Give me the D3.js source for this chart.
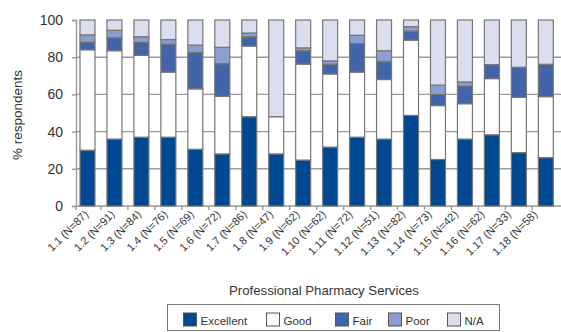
<!DOCTYPE html>
<html>
<head>
<meta charset="utf-8">
<script src="https://cdn.jsdelivr.net/npm/d3@7/dist/d3.min.js"></script>
<style>
  html, body { margin: 0; padding: 0; background: #fff; }
  svg { display: block; }
  text { font-family: "Liberation Sans", Arial, sans-serif; fill: #333; }
</style>
</head>
<body>
<svg id="chart" width="561" height="332"></svg>
<script>
// Survey ratings of professional pharmacy services (% of respondents)
const categories = [
  "1.1 (N=87)", "1.2 (N=91)", "1.3 (N=84)", "1.4 (N=76)", "1.5 (N=69)", "1.6 (N=72)",
  "1.7 (N=86)", "1.8 (N=47)", "1.9 (N=62)", "1.10 (N=62)", "1.11 (N=72)", "1.12 (N=51)",
  "1.13 (N=82)", "1.14 (N=73)", "1.15 (N=42)", "1.16 (N=62)", "1.17 (N=33)", "1.18 (N=58)"
];
const excellent = [30, 36, 37, 37, 30.5, 28, 48, 28, 24.7, 31.7, 37, 36, 48.7, 25, 36, 38.3, 28.7, 26];
const good      = [54, 47.5, 44, 35, 32.5, 31, 38, 20, 51.6, 39.3, 35, 32, 40.5, 29, 19, 30.2, 29.7, 32.8];
const fair      = [4, 7, 7, 15, 19.5, 17.5, 5, 0, 7.2, 5.2, 15.4, 9.6, 4.8, 6, 9.5, 7.5, 16.2, 17.4];
const poor      = [4, 4, 3, 2.5, 4, 8.8, 2, 0, 1.5, 1.8, 4.4, 5.9, 2.4, 5, 2.2, 0, 0, 0];
const na        = [8, 5.5, 9, 10.5, 13.5, 14.7, 7, 52, 15, 22, 8.2, 16.5, 3.6, 35, 33.3, 24, 25.4, 23.8];

const seriesNames = ["Excellent", "Good", "Fair", "Poor", "N/A"];
const seriesColors = ["#004891", "#ffffff", "#4265a9", "#8c9dcf", "#dadeee"];
const yTicks = [0, 20, 40, 60, 80, 100];
const xTitle = "Professional Pharmacy Services";
const yTitle = "% respondents";

const svg = d3.select("#chart");

// rows for the stack layout
const seriesValues = [excellent, good, fair, poor, na];
const rows = categories.map((c, i) => {
  const r = { category: c };
  seriesNames.forEach((s, k) => { r[s] = seriesValues[k][i]; });
  return r;
});
const stacked = d3.stack().keys(seriesNames)(rows);

const x = d3.scaleBand()
  .domain(categories)
  .range([76, 557.3])
  .paddingInner(0.444)
  .paddingOuter(0.148);
const y = d3.scaleLinear().domain([0, 100]).range([206, 20]);
const color = d3.scaleOrdinal().domain(seriesNames).range(seriesColors);
const labelX = d3.scalePoint().domain(categories).range([89, 538]);

const gridColor = "#9a9a9a";
const plotRight = 561;

// horizontal gridlines
svg.append("g")
  .selectAll("line")
  .data(yTicks.filter(t => t > 0 && t < 100))
  .join("line")
  .attr("x1", 76).attr("x2", plotRight)
  .attr("y1", d => y(d)).attr("y2", d => y(d))
  .attr("stroke", gridColor)
  .attr("stroke-width", 1.4);

// y axis
const yAxis = svg.append("g")
  .attr("transform", "translate(76,0)")
  .call(d3.axisLeft(y).tickValues(yTicks).tickSize(4).tickPadding(9));
yAxis.select(".domain").attr("stroke", gridColor).attr("stroke-width", 1.4);
yAxis.selectAll(".tick line").attr("stroke", gridColor).attr("stroke-width", 1.4);
yAxis.selectAll(".tick text")
  .attr("font-size", 14)
  .attr("font-family", "Liberation Sans, Arial, sans-serif")
  .attr("fill", "#333");

// x axis line with ticks between categories
svg.append("line")
  .attr("x1", 76).attr("x2", plotRight)
  .attr("y1", y(0)).attr("y2", y(0))
  .attr("stroke", gridColor).attr("stroke-width", 1.4);
const gap = x.step() - x.bandwidth();
const tickPositions = [76].concat(categories.slice(1).map(c => x(c) - gap / 2));
svg.append("g")
  .selectAll("line")
  .data(tickPositions)
  .join("line")
  .attr("x1", d => d).attr("x2", d => d)
  .attr("y1", y(0)).attr("y2", y(0) + 4)
  .attr("stroke", gridColor).attr("stroke-width", 1.4);

// stacked bars
svg.append("g")
  .selectAll("g")
  .data(stacked)
  .join("g")
  .attr("fill", d => color(d.key))
  .selectAll("rect")
  .data(d => d.filter(p => p[1] - p[0] > 0))
  .join("rect")
  .attr("x", d => x(d.data.category))
  .attr("width", x.bandwidth())
  .attr("y", d => y(d[1]))
  .attr("height", d => y(d[0]) - y(d[1]))
  .attr("stroke", "#767676")
  .attr("stroke-width", 1.2);

// category labels
svg.append("g")
  .selectAll("text")
  .data(categories)
  .join("text")
  .attr("transform", d => `translate(${labelX(d)},215) rotate(-45)`)
  .attr("text-anchor", "end")
  .attr("font-size", 11)
  .text(d => d);

// axis titles
svg.append("text")
  .attr("x", 324).attr("y", 295)
  .attr("text-anchor", "middle")
  .attr("font-size", 13.2)
  .text(xTitle);

svg.append("text")
  .attr("transform", "translate(22,115) rotate(-90)")
  .attr("text-anchor", "middle")
  .attr("font-size", 13.5)
  .text(yTitle);

// legend
const legend = svg.append("g");
legend.append("rect")
  .attr("x", 167.5).attr("y", 304.5)
  .attr("width", 332).attr("height", 26)
  .attr("fill", "#fff")
  .attr("stroke", "#777").attr("stroke-width", 1);
const legendX = [183.5, 266.5, 335.5, 388.5, 447.5];
const items = legend.selectAll("g.item")
  .data(seriesNames)
  .join("g")
  .attr("class", "item")
  .attr("transform", (d, i) => `translate(${legendX[i]},313)`);
items.append("rect")
  .attr("width", 13).attr("height", 13)
  .attr("fill", d => color(d))
  .attr("stroke", "#555").attr("stroke-width", 1);
items.append("text")
  .attr("x", 17).attr("y", 11.5)
  .attr("font-size", 11.5)
  .text(d => d);
</script>
</body>
</html>
